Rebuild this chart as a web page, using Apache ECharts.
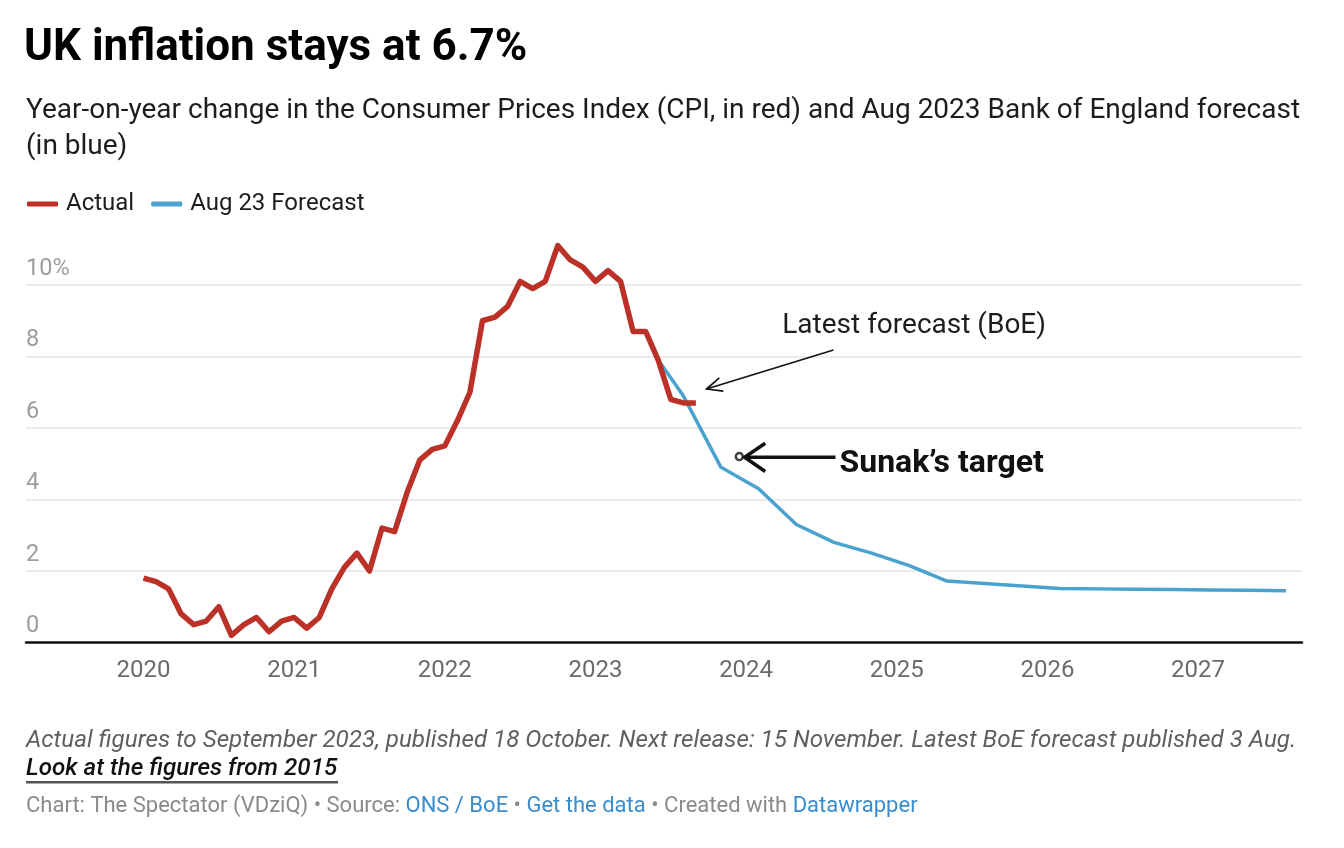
<!DOCTYPE html>
<html><head><meta charset="utf-8">
<script src="https://cdn.jsdelivr.net/npm/echarts@6/dist/echarts.min.js"></script>
<style>html,body{margin:0;padding:0;background:#fff}#c{width:1344px;height:848px}</style>
</head><body><div id="c"></div>
<script>
// ---------- DATA ----------
const actualDates = [
  '2020-01','2020-02','2020-03','2020-04','2020-05','2020-06','2020-07','2020-08','2020-09','2020-10','2020-11','2020-12',
  '2021-01','2021-02','2021-03','2021-04','2021-05','2021-06','2021-07','2021-08','2021-09','2021-10','2021-11','2021-12',
  '2022-01','2022-02','2022-03','2022-04','2022-05','2022-06','2022-07','2022-08','2022-09','2022-10','2022-11','2022-12',
  '2023-01','2023-02','2023-03','2023-04','2023-05','2023-06','2023-07','2023-08','2023-09'
];
const actualValues = [
  1.8,1.7,1.5,0.8,0.5,0.6,1.0,0.2,0.5,0.7,0.3,0.6,
  0.7,0.4,0.7,1.5,2.1,2.5,2.0,3.2,3.1,4.2,5.1,5.4,
  5.5,6.2,7.0,9.0,9.1,9.4,10.1,9.9,10.1,11.1,10.7,10.5,
  10.1,10.4,10.1,8.7,8.7,7.9,6.8,6.7,6.7
];
const forecastDates = [
  '2023-06','2023-08','2023-11','2024-02','2024-05','2024-08','2024-11','2025-02','2025-05',
  '2025-08','2025-11','2026-02','2026-05','2026-08','2026-11','2027-02','2027-05','2027-08'
];
const forecastValues = [
  7.9,6.9,4.9,4.3,3.3,2.8,2.5,2.15,1.72,
  1.65,1.58,1.51,1.50,1.49,1.48,1.47,1.46,1.45
];
const sunakTargetDate = '2023-12-15';
const sunakTargetValue = 5.2;
const yearTicks = [2020,2021,2022,2023,2024,2025,2026,2027];

// ---------- HELPERS ----------
function decYear(s){
  const p = s.split('-').map(Number);
  const d = p[2] ? (p[2]-1)/30.5 : 0;
  return p[0] + (p[1]-1 + d)/12;
}
const actualData = actualDates.map((d,i)=>[decYear(d), actualValues[i]]);
const forecastData = forecastDates.map((d,i)=>[decYear(d), forecastValues[i]]);
const sunakData = [[decYear(sunakTargetDate), sunakTargetValue]];

const FONT = 'Roboto, "Noto Sans", sans-serif';
const chart = echarts.init(document.getElementById('c'), null, {renderer:'canvas'});

const option = {
  backgroundColor:'#fff',
  animation:false,
  textStyle:{fontFamily:FONT},
  title:[
    {text:'UK inflation stays at 6.7%', left:24, top:23, padding:0,
     textStyle:{fontFamily:FONT, fontWeight:'bold', fontSize:44, lineHeight:52, color:'#000'}},
    {text:'Year-on-year change in the Consumer Prices Index (CPI, in red) and Aug 2023 Bank of England forecast (in blue)',
     left:26, top:93, padding:0,
     textStyle:{fontFamily:FONT, fontWeight:'normal', fontSize:28, color:'#1d1d1d', lineHeight:36, width:1295, overflow:'break'}},
    {text:'Actual figures to September 2023, published 18 October. Next release: 15 November. Latest BoE forecast published 3 Aug.',
     left:26, top:727, padding:0,
     textStyle:{fontFamily:FONT, fontStyle:'italic', fontWeight:'normal', fontSize:24.2, color:'#5f5f5f', lineHeight:28}},
    {text:'Look at the figures from 2015', left:26, top:755, padding:0,
     textStyle:{fontFamily:FONT, fontStyle:'italic', fontWeight:500, fontSize:24.2, color:'#111', lineHeight:28}},
    {text:'{g|Chart: The Spectator (VDziQ) • Source: }{b|ONS / BoE}{g| • }{b|Get the data}{g| • Created with }{b|Datawrapper}',
     left:26, top:792, padding:0,
     textStyle:{fontFamily:FONT, fontSize:22, fontWeight:'normal', lineHeight:28,
       rich:{g:{color:'#8a8a8a', fontSize:22, fontWeight:'normal', fontFamily:FONT},
             b:{color:'#3a8ccb', fontSize:22, fontWeight:'normal', fontFamily:FONT}}}}
  ],
  legend:{
    left:22, top:187, itemWidth:31, itemHeight:5, itemGap:17,
    icon:'roundRect',
    data:['Actual','Aug 23 Forecast'],
    textStyle:{fontFamily:FONT, fontSize:24, color:'#1d1d1d', padding:[0,0,0,3]}
  },
  grid:{left:26, right:42, top:285, bottom:205.5, containLabel:false},
  xAxis:{
    type:'value', min:2019.22, max:2027.69,
    axisLine:{show:true, onZero:false, lineStyle:{color:'#111', width:2.5}},
    axisTick:{show:false},
    splitLine:{show:false},
    axisLabel:{customValues:yearTicks, color:'#6b6b6b', fontSize:24, margin:16, fontFamily:FONT,
      formatter:v=>String(Math.round(v))}
  },
  yAxis:{
    type:'value', min:0, max:10, interval:2,
    axisLine:{show:false}, axisTick:{show:false},
    splitLine:{show:true, lineStyle:{color:'#e4e4e4', width:1.5}},
    axisLabel:{inside:true, margin:0, align:'left', verticalAlign:'bottom', padding:[0,0,4,0],
      color:'#9d9d9d', fontSize:23.5, fontFamily:FONT,
      formatter:v=> v===10 ? '10%' : String(v)}
  },
  series:[
    {name:'Aug 23 Forecast', type:'line', data:forecastData, showSymbol:false, symbol:'none', clip:false, z:2,
     color:'#4aa3cf', lineStyle:{color:'#4aa3cf', width:3.5}},
    {name:'Actual', type:'line', data:actualData, showSymbol:false, symbol:'none', clip:false, z:3,
     color:'#bb3128', lineStyle:{color:'#bb3128', width:5.5, join:'round'}},
    {name:'Sunak target', type:'scatter', data:sunakData, symbol:'circle', symbolSize:7, z:4,
     itemStyle:{color:'#fff', borderColor:'#111', borderWidth:2.5}}
  ]
};
chart.setOption(option);

// ---------- ANNOTATIONS (anchored in data coordinates) ----------
const ann = {
  latestText:[2024.24, 8.85],
  latestFrom:[2024.58, 8.18],
  latestTo:[2023.737, 7.09],
  sunakText:[2024.62, 5.0],
  sunakFrom:[2024.593, 5.18],
  sunakTo:[2023.99, 5.18]
};
const px = p => chart.convertToPixel({gridIndex:0}, p);
function arrow(from, to, width, headLen, headAng){
  const a = px(from), b = px(to);
  const ang = Math.atan2(a[1]-b[1], a[0]-b[0]);
  const h1 = [b[0]+headLen*Math.cos(ang+headAng), b[1]+headLen*Math.sin(ang+headAng)];
  const h2 = [b[0]+headLen*Math.cos(ang-headAng), b[1]+headLen*Math.sin(ang-headAng)];
  return [
    {type:'polyline', shape:{points:[a,b]}, style:{stroke:'#111', lineWidth:width, fill:null}, z:10},
    {type:'polyline', shape:{points:[h1,b,h2]}, style:{stroke:'#111', lineWidth:width, fill:null, lineJoin:'miter'}, z:10}
  ];
}
const lt = px(ann.latestText), st = px(ann.sunakText);
const graphics = [].concat(
  arrow(ann.latestFrom, ann.latestTo, 1.6, 17, 0.42),
  arrow(ann.sunakFrom, ann.sunakTo, 3.5, 25, 0.6),
  [
    {type:'text', x:lt[0], y:lt[1], z:10, style:{text:'Latest forecast (BoE)', fontFamily:FONT, fontSize:28, fill:'#1d1d1d', verticalAlign:'middle', align:'left'}},
    {type:'text', x:st[0], y:st[1], z:10, style:{text:'Sunak’s target', fontFamily:FONT, fontWeight:'bold', fontSize:32, fill:'#111', verticalAlign:'middle', align:'left'}},
    {type:'rect', shape:{x:26, y:781, width:312, height:2.5}, style:{fill:'#555'}, z:10}
  ]
);
chart.setOption({graphic:graphics});
</script>
</body></html>
